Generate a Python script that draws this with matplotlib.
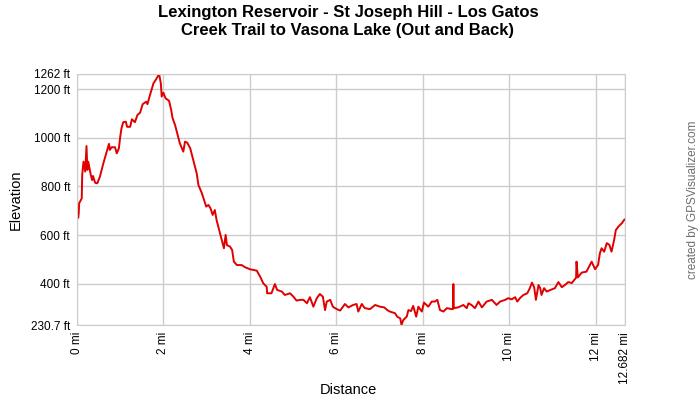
import matplotlib
matplotlib.use("Agg")
import matplotlib.pyplot as plt

plt.rcParams['font.family'] = ['Liberation Sans', 'DejaVu Sans']

title = "Lexington Reservoir - St Joseph Hill - Los Gatos\nCreek Trail to Vasona Lake (Out and Back)"

distance_mi = [
    0.00, 0.03, 0.04, 0.05, 0.11, 0.12, 0.15, 0.19, 0.22, 0.24, 0.26, 0.32, 0.35, 0.37, 0.42,
    0.47, 0.53, 0.61, 0.70, 0.74, 0.76, 0.80, 0.88, 0.92, 0.97, 1.00, 1.03, 1.07, 1.13, 1.16,
    1.23, 1.27, 1.34, 1.40, 1.46, 1.52, 1.60, 1.63, 1.69, 1.77, 1.83, 1.88, 1.90, 1.94, 1.96,
    2.00, 2.05, 2.13, 2.18, 2.21, 2.27, 2.32, 2.38, 2.46, 2.50, 2.55, 2.62, 2.69, 2.77, 2.81,
    2.89, 2.94, 2.99, 3.04, 3.09, 3.14, 3.19, 3.23, 3.29, 3.35, 3.40, 3.44, 3.47, 3.54, 3.59,
    3.63, 3.70, 3.81, 3.89, 4.00, 4.16, 4.24, 4.31, 4.39, 4.40, 4.50, 4.58, 4.63, 4.74, 4.81,
    4.93, 5.01, 5.08, 5.16, 5.24, 5.32, 5.39, 5.47, 5.55, 5.62, 5.69, 5.74, 5.78, 5.86, 5.92,
    6.01, 6.09, 6.20, 6.28, 6.39, 6.47, 6.51, 6.59, 6.66, 6.78, 6.90, 7.01, 7.11, 7.18, 7.24,
    7.36, 7.41, 7.48, 7.51, 7.55, 7.63, 7.67, 7.73, 7.78, 7.85, 7.90, 7.98, 8.03, 8.13, 8.21,
    8.28, 8.34, 8.40, 8.48, 8.56, 8.67, 8.70, 8.71, 8.72, 8.82, 8.94, 9.02, 9.06, 9.13, 9.21,
    9.29, 9.37, 9.48, 9.60, 9.71, 9.79, 9.91, 9.98, 10.06, 10.14, 10.19, 10.25, 10.33, 10.42, 10.48,
    10.53, 10.58, 10.62, 10.68, 10.72, 10.75, 10.81, 10.87, 10.96, 11.06, 11.14, 11.22, 11.29, 11.37, 11.45,
    11.52, 11.55, 11.56, 11.59, 11.68, 11.79, 11.83, 11.91, 11.99, 12.06, 12.10, 12.14, 12.20, 12.26, 12.32,
    12.37, 12.43, 12.47, 12.53, 12.61, 12.66, 12.682,
]

elevation_ft = [
    668, 672, 690, 731, 751, 847, 902, 861, 966, 868, 902, 847, 826, 843, 815,
    813, 840, 895, 950, 975, 950, 961, 961, 936, 957, 1004, 1039, 1064, 1066, 1045,
    1045, 1076, 1064, 1094, 1103, 1138, 1148, 1138, 1176, 1224, 1240, 1256, 1262, 1224, 1169,
    1185, 1162, 1152, 1114, 1082, 1052, 1018, 977, 943, 984, 980, 957, 909, 854, 806,
    772, 744, 717, 724, 710, 683, 703, 662, 621, 580, 546, 601, 559, 553, 539,
    491, 477, 477, 468, 460, 454, 429, 402, 388, 361, 361, 399, 375, 368, 354,
    361, 347, 331, 334, 334, 320, 345, 306, 341, 358, 347, 292, 327, 334, 306,
    296, 290, 317, 303, 313, 317, 286, 317, 300, 296, 313, 306, 303, 292, 286,
    279, 265, 258, 231, 251, 265, 292, 288, 309, 265, 306, 286, 323, 306, 327,
    327, 334, 292, 286, 300, 296, 296, 399, 300, 303, 313, 300, 320, 313, 300,
    327, 303, 327, 334, 313, 327, 334, 341, 336, 345, 327, 341, 354, 361, 382,
    405, 386, 334, 395, 382, 354, 382, 368, 375, 382, 407, 386, 395, 407, 403,
    418, 425, 491, 426, 446, 450, 464, 491, 460, 478, 525, 546, 532, 567, 560,
    532, 580, 621, 635, 649, 662, 665,
]

y_ticks = [230.7, 400, 600, 800, 1000, 1200, 1262]
y_tick_labels = ["230.7 ft", "400 ft", "600 ft", "800 ft", "1000 ft", "1200 ft", "1262 ft"]
x_ticks = [0, 2, 4, 6, 8, 10, 12, 12.682]
x_tick_labels = ["0 mi", "2 mi", "4 mi", "6 mi", "8 mi", "10 mi", "12 mi", "12.682 mi"]

fig = plt.figure(figsize=(7, 4), dpi=100)
ax = fig.add_axes([77/700, 1-325/400, (625-77)/700, (325-74)/400])

ax.plot(distance_mi, elevation_ft, color='#e00000', linewidth=1.4)
ax.set_xlim(0, 12.682)
ax.set_ylim(230.7, 1262)

ax.set_yticks(y_ticks)
ax.set_yticklabels(y_tick_labels, fontsize=8.5)
ax.set_xticks(x_ticks)
ax.set_xticklabels(x_tick_labels, fontsize=8.5, rotation=90)

ax.grid(True, color='#cccccc', linewidth=1)
ax.set_axisbelow(True)
for s in ax.spines.values():
    s.set_color('#cccccc')
ax.tick_params(length=0, pad=5, labelcolor='black')

fig.text(16/700, 1-200/400, "Elevation", rotation=90, ha='center', va='center', fontsize=10.5)
fig.text(348/700, 1-390/400, "Distance", ha='center', va='center', fontsize=10.5)

fig.text(0.497, 0.988, title, ha='center', va='top', fontsize=12, fontweight='bold', linespacing=1.3)
fig.text(0.99, 0.5, "created by GPSVisualizer.com", rotation=90, ha='center', va='center',
         fontsize=8.5, color='#6e6e6e')

fig.savefig("out.png", dpi=100)
